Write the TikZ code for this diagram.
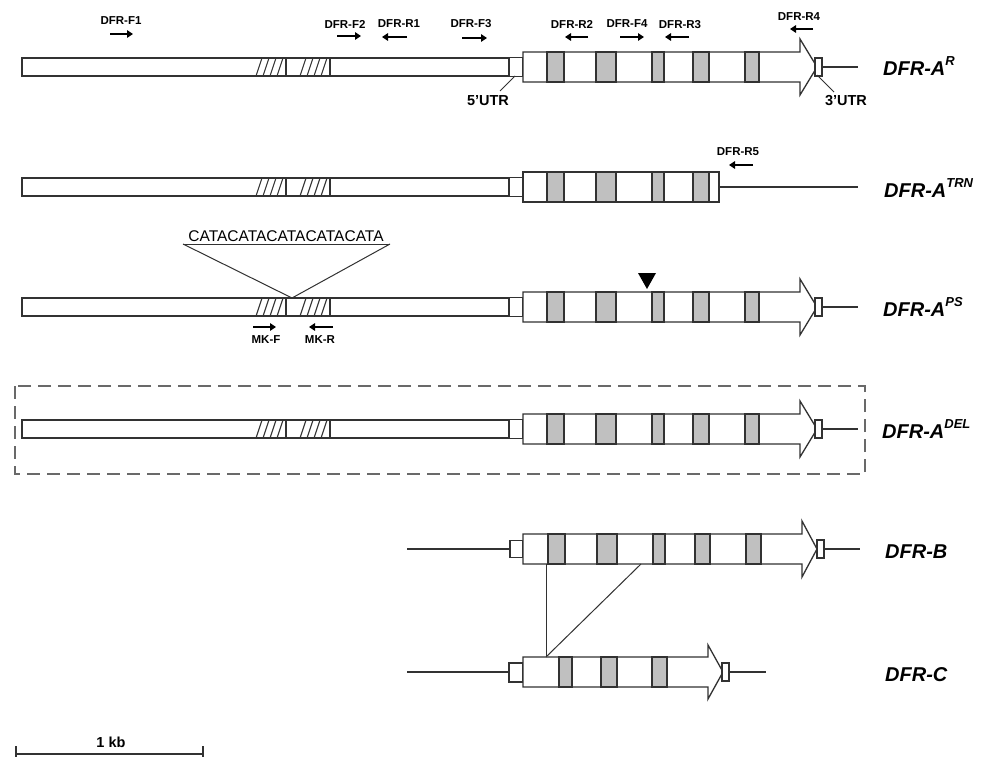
\documentclass[tikz,border=0pt]{standalone}
\usepackage{fontspec}
\setmainfont{Liberation Sans}
\usetikzlibrary{arrows.meta}
\definecolor{ol}{RGB}{50,50,50}
\definecolor{ex}{RGB}{192,192,192}
\definecolor{dashc}{RGB}{105,105,105}
\tikzset{
 gl/.style={draw=ol,line width=1.3pt},
 exon/.style={gl,fill=ex},
 hatchline/.style={draw=ol,line width=1.1pt},
 primer/.style={line width=2.6pt,-{Triangle[length=6pt,width=7.5pt]}},
 plab/.style={font=\fontsize{11.5}{13}\selectfont\bfseries,inner sep=0pt},
 utrlab/.style={font=\fontsize{14.5}{16}\selectfont\bfseries,inner sep=0pt},
 glab/.style={font=\fontsize{20}{22}\selectfont\bfseries\itshape,inner sep=0pt,anchor=base west},
 delbox/.style={draw=dashc,line width=1.3pt,dash pattern=on 13pt off 7pt},
}
\newcommand{\Sup}[1]{\raisebox{10pt}{\fontsize{13}{13}\selectfont #1}}
\newcommand{\Hatch}[2]{%
 \foreach \k in {0,7,14,21}{\draw[hatchline] (#1+\k,#2+9) -- (#1+\k+6,#2-9);}
 \draw[hatchline] (#1+30,#2-9) -- (#1+30,#2+9);}
\newcommand{\Promo}[1]{%
 \draw[gl,fill=white] (22,#1-9) rectangle (509,#1+9);
 \Hatch{256}{#1}\Hatch{300}{#1}}
\newcommand{\FiveBox}[1]{\draw[gl,fill=white] (509,#1-9.5) rectangle (523,#1+9.5);}
\newcommand{\CDS}[4]{%
 \draw[gl,fill=white,line join=miter] (523,#1-15) -- (#2,#1-15) -- (#2,#1-#4) -- (#3,#1) -- (#2,#1+#4) -- (#2,#1+15) -- (523,#1+15) -- cycle;}
\newcommand{\Exon}[3]{\draw[exon] (#1,#3-15) rectangle (#2,#3+15);}
\newcommand{\ExonsA}[1]{\Exon{547}{564}{#1}\Exon{596}{616}{#1}\Exon{652}{664}{#1}\Exon{693}{709}{#1}\Exon{745}{759}{#1}}
\newcommand{\ThreeEnd}[3]{%
 \draw[gl] (#2+7,#1) -- (#3,#1);
 \draw[gl,fill=white] (#2,#1-9) rectangle (#2+7,#1+9);}
\begin{document}
\begin{tikzpicture}[x=1pt,y=-1pt]
\useasboundingbox (0,0) rectangle (996,757);
\fill[white] (0,0) rectangle (996,757);

% ---------- Row 1: DFR-A^R ----------
\Promo{67}
\FiveBox{67}
\CDS{67}{800}{817}{28}
\ExonsA{67}
\ThreeEnd{67}{815}{858}
\node[glab] (lR) at (883,76) {DFR-A\Sup{R}};
\node[utrlab] (t5) at (488,101) {5\char"27 UTR};
\node[utrlab] (t3) at (846,101) {3\char"27 UTR};
\coordinate (u5a) at (515,76);
\coordinate (u5b) at (500,91);
\coordinate (u3a) at (817,75);
\coordinate (u3b) at (834,92);
\draw[gl,line width=1pt] (u5a) -- (u5b);
\draw[gl,line width=1pt] (u3a) -- (u3b);

% primers row 1
\node[plab] (pF1) at (121,21) {DFR-F1};
\draw[primer] (110,34) -- (133,34);
\node[plab] (pF2) at (345,24) {DFR-F2};
\draw[primer] (337,36) -- (361,36);
\node[plab] (pR1) at (399,24) {DFR-R1};
\draw[primer] (407,37) -- (382,37);
\node[plab] (pF3) at (471,24) {DFR-F3};
\draw[primer] (462,38) -- (487,38);
\node[plab] (pR2) at (572,24) {DFR-R2};
\draw[primer] (588,37) -- (565,37);
\node[plab] (pF4) at (627,24) {DFR-F4};
\draw[primer] (620,37) -- (644,37);
\node[plab] (pR3) at (680,25) {DFR-R3};
\draw[primer] (689,37) -- (665,37);
\node[plab] (pR4) at (799,17) {DFR-R4};
\draw[primer] (813,29) -- (790,29);

% ---------- Row 2: DFR-A^TRN ----------
\Promo{187}
\FiveBox{187}
\draw[gl] (719,187) -- (858,187);
\draw[gl,fill=white] (523,172) rectangle (719,202);
\Exon{547}{564}{187}\Exon{596}{616}{187}\Exon{652}{664}{187}\Exon{693}{709}{187}
\node[glab] (lTRN) at (884,197) {DFR-A\Sup{TRN}};
\node[plab] (pR5) at (738,152) {DFR-R5};
\draw[primer] (753,165) -- (729,165);

% ---------- Row 3: DFR-A^PS ----------
\node[font=\fontsize{15.5}{17}\selectfont,inner sep=0pt] (cata) at (286,236) {CATACATACATACATACATA};
\coordinate (vL) at (183,244);
\coordinate (vR) at (390,244);
\coordinate (vT) at (292,298);
\draw[gl,line width=1pt] (vL) -- (vR);
\draw[gl,line width=1pt] (vL) -- (vT) -- (vR);
\Promo{307}
\FiveBox{307}
\CDS{307}{800}{817}{28}
\ExonsA{307}
\ThreeEnd{307}{815}{858}
\fill[black] (638,273) -- (656,273) -- (647,289) -- cycle;
\node[glab] (lPS) at (883,316) {DFR-A\Sup{PS}};
\node[plab] (pMKF) at (266,340) {MK-F};
\draw[primer] (253,327) -- (276,327);
\node[plab] (pMKR) at (320,340) {MK-R};
\draw[primer] (333,327) -- (309,327);

% ---------- Row 4: DFR-A^DEL ----------
\draw[delbox] (15,386) rectangle (865,474);
\Promo{429}
\FiveBox{429}
\CDS{429}{800}{817}{28}
\ExonsA{429}
\ThreeEnd{429}{815}{858}
\node[glab] (lDEL) at (882,438) {DFR-A\Sup{DEL}};

% ---------- Row 5: DFR-B ----------
\draw[gl] (407,549) -- (510,549);
\draw[gl,fill=white] (510,540.5) rectangle (523,557.5);
\CDS{549}{802}{817}{28}
\Exon{548}{565}{549}\Exon{597}{617}{549}\Exon{653}{665}{549}\Exon{695}{710}{549}\Exon{746}{761}{549}
\ThreeEnd{549}{817}{860}
\node[glab] (lB) at (885,558) {DFR-B};

% ---------- Row 6: DFR-C ----------
\draw[gl] (407,672) -- (509,672);
\draw[gl,fill=white] (509,663) rectangle (523,682);
\CDS{672}{708}{723}{27}
\Exon{559}{572}{672}\Exon{601}{617}{672}\Exon{652}{667}{672}
\ThreeEnd{672}{722}{766}
\node[glab] (lC) at (885,681) {DFR-C};

% B-C connectors
\coordinate (b1) at (546,564);
\coordinate (b2) at (641,564);
\coordinate (c1) at (546,657);
\draw[gl,line width=1pt] (b1) -- (c1);
\draw[gl,line width=1pt] (b2) -- (c1);

% ---------- scale bar ----------
\coordinate (s1) at (16,754);
\coordinate (s2) at (203,754);
\draw[gl,line width=1.4pt] (s1) -- (s2);
\draw[gl,line width=1.4pt] (16,746) -- (16,757);
\draw[gl,line width=1.4pt] (203,746) -- (203,757);
\node[utrlab] (kb) at (111,742) {1 kb};
\end{tikzpicture}
\end{document}
